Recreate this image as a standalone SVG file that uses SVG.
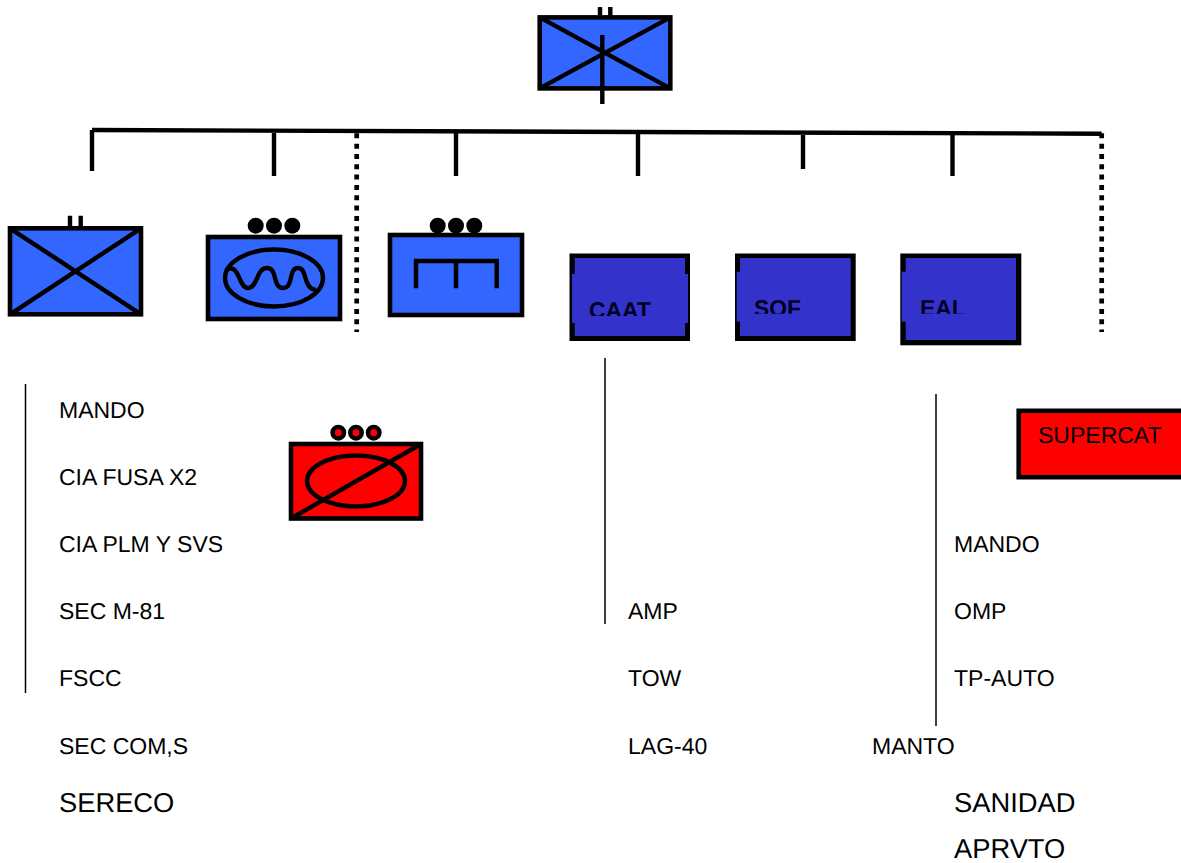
<svg xmlns="http://www.w3.org/2000/svg" width="1181" height="863" viewBox="0 0 1181 863">
<style>
text{font-family:"Liberation Sans",Arial,sans-serif;font-size:23px;fill:#000;text-rendering:geometricPrecision}
.l{font-size:27.3px}
.b{fill:#3366ff;stroke:#000;stroke-width:4.6}
.r{fill:#ff0000;stroke:#000;stroke-width:4.6}
.s{fill:none;stroke:#000;stroke-width:4.4}
.k{fill:#000}
.t{fill:#3333cc}
.h{font-weight:bold;font-size:22.8px;fill:#000022}
</style>
<defs>
<clipPath id="c1"><rect x="575" y="258" width="110" height="58"/></clipPath>
<clipPath id="c2"><rect x="740" y="258" width="110" height="55.800"/></clipPath>
<clipPath id="c3"><rect x="906" y="258" width="110" height="55.800"/></clipPath>
</defs>
<rect width="1181" height="863" fill="#fff"/>
<g id="connectors" fill="none" stroke="#000" stroke-width="4.400">
<path d="M92 130L1101.700 133.700"/>
<path d="M92 130V171M274 133V176M456 133V176M638 133V176M803 135V169M952.500 133V176"/>
<path d="M356.700 133.300V332M1101.700 133.300V332" stroke-dasharray="5 5.330" stroke-width="4.700"/>
<path d="M25.500 384V693M605 358V624M936 394V726" stroke-width="1.500"/>
</g>
<g id="hq"><path class="s" d="M600 7V16M610.300 7V16"/><rect class="b" x="539.700" y="17.400" width="130.600" height="71"/><path class="s" d="M539.700 17.400L670.300 88.400M670.300 17.400L539.700 88.400M602.300 35V104"/></g>
<g id="n1"><path class="s" d="M70 215.700V227M80.700 215.700V227"/><rect class="b" x="10" y="228.300" width="131" height="86"/><path class="s" d="M10 228.300L141 314.300M141 228.300L10 314.300"/></g>
<g id="n2"><circle cx="255.700" cy="225.700" r="8"/><circle cx="274" cy="225.700" r="8"/><circle cx="292.300" cy="225.700" r="8"/><rect class="b" x="208" y="237" width="132" height="82"/><ellipse class="s" cx="274" cy="278" rx="49" ry="28.500"/><path class="s" d="M226 270C240 262 238 288 248 288C258 288 256 268 267 268C278 268 272 288 283 288C294 288 288 268 298 268C308 268 302 288 316 290"/></g>
<g id="n3"><circle cx="437.700" cy="225.700" r="8"/><circle cx="456" cy="225.700" r="8"/><circle cx="474.300" cy="225.700" r="8"/><rect class="b" x="390" y="235" width="132" height="80"/><path class="s" d="M416 288.300V261H496.700V288.300M456 261V288.300"/></g>
<g id="n4"><rect class="k" x="569.500" y="253.500" width="120.500" height="87.500"/><rect class="t" x="574.700" y="258" width="110.300" height="78"/><rect class="t" x="572" y="274" width="116" height="49"/><text class="h" x="589" y="318" clip-path="url(#c1)">CAAT</text></g>
<g id="n5"><rect class="k" x="735" y="253.500" width="120.700" height="87.500"/><rect class="t" x="740" y="258" width="110.700" height="78"/><rect class="t" x="736.700" y="271.700" width="10" height="50"/><text class="h" x="754" y="315.500" clip-path="url(#c2)">SOF</text></g>
<g id="n6"><rect class="k" x="900.300" y="253.500" width="121" height="91.800"/><rect class="t" x="905.700" y="258" width="110.300" height="82"/><rect class="t" x="901.700" y="271.700" width="10" height="50"/><text class="h" x="920" y="315.500" clip-path="url(#c3)">EAL</text></g>
<g id="n7"><g fill="#f00" stroke="#000" stroke-width="4.500"><circle cx="338.300" cy="432.700" r="5.700"/><circle cx="356" cy="432.700" r="5.700"/><circle cx="373.700" cy="432.700" r="5.700"/></g><rect class="r" x="291" y="444" width="130" height="74.500"/><ellipse class="s" cx="356" cy="481" rx="49" ry="25.500"/><path class="s" d="M291 518.500L421 444"/></g>
<g id="n8"><rect class="r" x="1018.700" y="410.800" width="170" height="66.400" stroke-width="5"/><text x="1038" y="443">SUPERCAT</text></g>
<g id="labels">
<text x="59" y="418">MANDO</text><text x="59" y="485">CIA FUSA X2</text><text x="59" y="552">CIA PLM Y SVS</text><text x="59" y="619">SEC M-81</text><text x="59" y="686">FSCC</text><text x="59" y="754">SEC COM,S</text><text class="l" x="59" y="812">SERECO</text>
<text x="628" y="619">AMP</text><text x="628" y="686">TOW</text><text x="628" y="754">LAG-40</text>
<text x="954" y="552">MANDO</text><text x="954" y="619">OMP</text><text x="954" y="686">TP-AUTO</text><text x="872" y="754">MANTO</text><text class="l" x="954" y="812">SANIDAD</text><text class="l" x="954" y="858">APRVTO</text>
</g>
</svg>
